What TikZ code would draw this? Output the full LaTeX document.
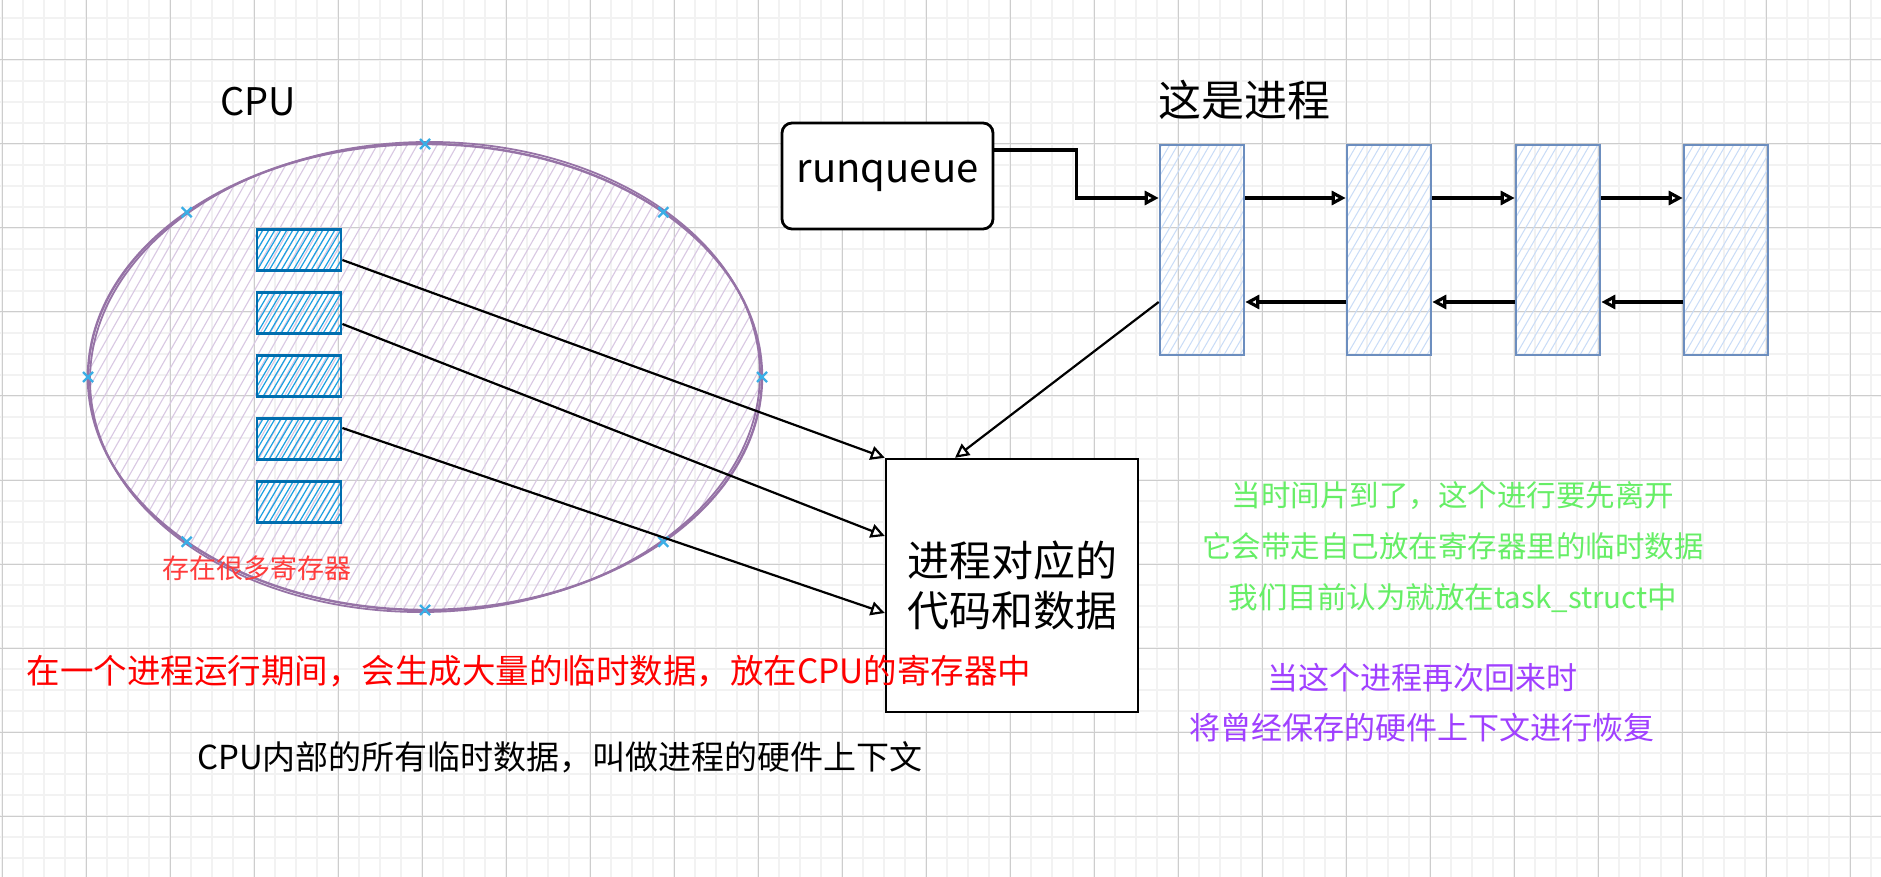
\documentclass[tikz,border=0pt]{standalone}
\usepackage{fontspec}
\setmainfont{Noto Sans CJK SC}
\usetikzlibrary{arrows.meta,shapes.geometric,calc}
\definecolor{gridminor}{HTML}{F2F2F2}
\definecolor{gridmajor}{HTML}{CDCDCD}
\definecolor{cpustroke}{HTML}{9673A6}
\definecolor{cpuhatch}{HTML}{D9C8E3}
\definecolor{regstroke}{HTML}{006EAF}
\definecolor{reghatch}{HTML}{1BA1E2}
\definecolor{procstroke}{HTML}{6C8EBF}
\definecolor{prochatch}{HTML}{C9DCF7}
\definecolor{markblue}{HTML}{3AAEE6}
\definecolor{txtgreen}{HTML}{66EE66}
\definecolor{txtpurple}{HTML}{A040FF}
\definecolor{txtred}{HTML}{FF0000}
\definecolor{txtlred}{HTML}{FF3B3B}
\begin{document}
\begin{tikzpicture}[x=0.5pt,y=-0.5pt,
  >={Triangle[open,length=7pt,width=7pt]},
  regbox/.style={draw=regstroke,line width=1.4pt,minimum width=42pt,minimum height=20.5pt,inner sep=0pt,
    path picture={\foreach \k in {-5,...,14}{\draw[reghatch,line width=0.6pt]([xshift=\k*3pt]path picture bounding box.south west) -- ++(13pt,22pt);}}},
  procbox/.style={draw=procstroke,line width=1.3pt,minimum width=42pt,minimum height=105pt,inner sep=0pt,
    path picture={\foreach \k in {-16,...,11}{\draw[prochatch,line width=0.5pt]([xshift=\k*4pt]path picture bounding box.south west) -- ++(62pt,107pt);}}},
  conn/.style={->,line width=1.1pt},
  listconn/.style={->,line width=1.6pt},
  xmark/.style={markblue,line width=1.2pt}
]
\fill[white] (0,0) rectangle (1881,877);
\useasboundingbox (0,0) rectangle (1881,877);
% grid
\foreach \x in {2,23,...,1881} \draw[gridminor,line width=1pt] (\x,0) -- (\x,877);
\foreach \y in {18,39,...,877} \draw[gridminor,line width=1pt] (0,\y) -- (1881,\y);
\foreach \x in {2,86,...,1881} \draw[gridmajor,line width=0.5pt] (\x,0) -- (\x,877);
\foreach \y in {60,144,...,877} \draw[gridmajor,line width=0.5pt] (0,\y) -- (1881,\y);

% CPU ellipse
\begin{scope}
\clip (425,377) ellipse [x radius=168.5pt, y radius=116.5pt];
\foreach \x in {-190,-180,...,770} \draw[cpuhatch,line width=0.55pt] (\x,615) -- ++(270,-475);
\end{scope}
\node[ellipse,draw=cpustroke,line width=1.2pt,minimum width=337pt,minimum height=233pt,inner sep=0pt] (cpu) at (425,377) {};
\draw[cpustroke,line width=0.9pt,rotate around={1:(425,377)}] (425,377) ellipse [x radius=167.5pt, y radius=117.5pt];
\foreach \a in {0,45,...,315}{
  \path (cpu.center) ++({337*cos(\a)},{233*sin(\a)}) coordinate (m);
  \draw[xmark] (m) ++(-5,-5) -- ++(10,10) ++(0,-10) -- ++(-10,10);
}
\node[font=\fontsize{19pt}{22pt}\selectfont] (cputxt) at (258,102) {CPU};

% registers
\foreach \i/\yy in {1/250,2/313,3/376,4/439,5/502} \node[regbox] (r\i) at (299,\yy) {};
\node[text=txtlred,font=\fontsize{13.5pt}{16pt}\selectfont] (regnote) at (257,568) {存在很多寄存器};

% runqueue and processes
\node[draw,line width=1.4pt,rounded corners=5pt,fill=white,minimum width=105.5pt,minimum height=53pt,inner sep=0pt,font=\fontsize{20pt}{24pt}\selectfont] (rq) at (887.5,176) {runqueue};
\node[font=\fontsize{21.5pt}{26pt}\selectfont] (ptitle) at (1244,100) {这是进程};
\node[procbox] (p1) at (1202,250) {};
\node[procbox] (p2) at (1389,250) {};
\node[procbox] (p3) at (1558,250) {};
\node[procbox] (p4) at (1726,250) {};

% code box
\node[draw,line width=1.2pt,fill=white,minimum width=126pt,minimum height=126.5pt,inner sep=0pt,align=center,font=\fontsize{21pt}{25pt}\selectfont] (code) at (1012,585.5) {进程对应的\\代码和数据};

% connectors
\draw[listconn] ([yshift=13pt]rq.east) -- ++(41pt,0pt) |- ([yshift=26pt]p1.west);
\foreach \a/\b in {p1/p2,p2/p3,p3/p4} \draw[listconn] ([yshift=26pt]\a.east) -- ([yshift=26pt]\b.west);
\foreach \a/\b in {p2/p1,p3/p2,p4/p3} \draw[listconn] ([yshift=-26pt]\a.west) -- ([yshift=-26pt]\b.east);
\draw[conn] ([yshift=-26pt]p1.west) -- ([xshift=-28.5pt]code.north);
\draw[conn] ([yshift=-5pt]r1.east) -- (code.north west);
\draw[conn] ([yshift=-5.5pt]r2.east) -- ([yshift=24.75pt]code.west);
\draw[conn] ([yshift=5.5pt]r4.east) -- ([yshift=-13.75pt]code.west);

% notes
\node[text=txtred,font=\fontsize{16.75pt}{20pt}\selectfont] (note1) at (529,671) {在一个进程运行期间，会生成大量的临时数据，放在CPU的寄存器中};
\node[font=\fontsize{16.5pt}{20pt}\selectfont] (note2) at (560,757) {CPU内部的所有临时数据，叫做进程的硬件上下文};
\node[text=txtgreen,align=center,font=\fontsize{14.75pt}{25.5pt}\selectfont] (note3) at (1453,547) {当时间片到了，这个进行要先离开\\它会带走自己放在寄存器里的临时数据\\我们目前认为就放在task\_struct中};
\node[text=txtpurple,align=center,font=\fontsize{15.5pt}{25pt}\selectfont] (note4) at (1422,703) {当这个进程再次回来时\\将曾经保存的硬件上下文进行恢复};
\end{tikzpicture}
\end{document}
